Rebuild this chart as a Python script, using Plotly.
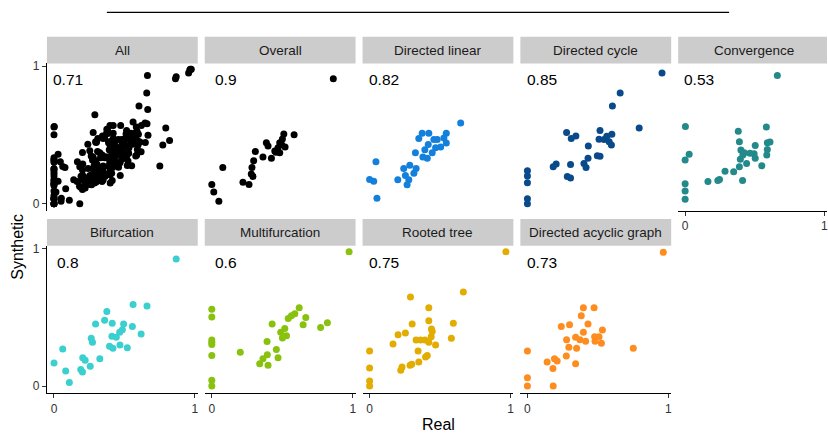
import plotly.graph_objects as go

FONT = "Arial, Liberation Sans, Helvetica, sans-serif"
W, H = 828, 433

panels = ["All", "Overall", "Directed linear", "Directed cycle", "Convergence",
          "Bifurcation", "Multifurcation", "Rooted tree", "Directed acyclic graph"]
correlations = ["0.71", "0.9", "0.82", "0.85", "0.53", "0.8", "0.6", "0.75", "0.73"]
colors = ["#000000", "#000000", "#1380DC", "#0A4A8A", "#23898A",
          "#3BCFD0", "#88C20E", "#E2AC00", "#FF8C1F"]
tick_vals = [0, 1]
tick_text = ["0", "1"]

overall_x = [0.862, 0.584, 0.511, 0.501, 0.482, 0.520, 0.387, 0.399, 0.470, 0.447, 0.482,
             0.423, 0.363, 0.309, 0.297, 0.285, 0.280, 0.292, 0.221, 0.264, 0.078, 0.0,
             0.014, 0.050, 0.455, 0.495]
overall_y = [0.907, 0.502, 0.507, 0.471, 0.443, 0.412, 0.443, 0.419, 0.407, 0.383, 0.371,
             0.331, 0.340, 0.379, 0.312, 0.264, 0.217, 0.198, 0.157, 0.140, 0.264, 0.140,
             0.086, 0.019, 0.375, 0.430]

linear_x = [0.646, 0.373, 0.420, 0.544, 0.349, 0.527, 0.456, 0.480, 0.544, 0.416, 0.504,
            0.468, 0.392, 0.444, 0.325, 0.378, 0.409, 0.045, 0.285, 0.242, 0.330, 0.314,
            0.254, 0.200, 0.278, 0.266, 0.0, 0.029, 0.052]
linear_y = [0.586, 0.513, 0.513, 0.513, 0.474, 0.477, 0.466, 0.466, 0.442, 0.431, 0.412,
            0.407, 0.393, 0.371, 0.371, 0.340, 0.331, 0.305, 0.279, 0.257, 0.257, 0.221,
            0.205, 0.174, 0.174, 0.138, 0.176, 0.164, 0.040]

cycle_x = [0.955, 0.658, 0.603, 0.793, 0.515, 0.278, 0.344, 0.311, 0.599, 0.563, 0.508,
           0.544, 0.580, 0.596, 0.432, 0.496, 0.515, 0.430, 0.401, 0.416, 0.306, 0.204,
           0.183, 0.283, 0.306, 0.0, 0.0, 0.0, 0.0, 0.0]
cycle_y = [0.950, 0.805, 0.710, 0.550, 0.533, 0.517, 0.493, 0.474, 0.505, 0.490, 0.469,
           0.467, 0.450, 0.426, 0.419, 0.348, 0.345, 0.331, 0.293, 0.264, 0.286, 0.288,
           0.269, 0.198, 0.188, 0.240, 0.202, 0.152, 0.036, 0.0]

conv_x = [0.663, 0.002, 0.584, 0.382, 0.390, 0.591, 0.610, 0.504, 0.401, 0.591, 0.425,
          0.466, 0.496, 0.587, 0.029, 0.0, 0.504, 0.397, 0.442, 0.390, 0.551, 0.287,
          0.349, 0.247, 0.235, 0.164, 0.413, 0.0, 0.0, 0.0, 0.415]
conv_y = [0.931, 0.562, 0.557, 0.526, 0.450, 0.443, 0.448, 0.424, 0.390, 0.395, 0.371,
          0.367, 0.364, 0.355, 0.360, 0.317, 0.331, 0.324, 0.293, 0.269, 0.276, 0.236,
          0.233, 0.176, 0.169, 0.162, 0.169, 0.145, 0.093, 0.033, 0.355]

bif_x = [0.867, 0.561, 0.660, 0.375, 0.359, 0.413, 0.494, 0.295, 0.556, 0.485, 0.466,
         0.618, 0.411, 0.442, 0.264, 0.273, 0.468, 0.394, 0.418, 0.520, 0.062, 0.204,
         0.221, 0.325, 0.257, 0.190, 0.202, 0.0, 0.083, 0.109]
bif_y = [0.923, 0.593, 0.581, 0.541, 0.478, 0.457, 0.450, 0.450, 0.433, 0.409, 0.390,
         0.378, 0.361, 0.354, 0.347, 0.318, 0.299, 0.289, 0.275, 0.278, 0.270, 0.206,
         0.187, 0.199, 0.144, 0.120, 0.103, 0.167, 0.110, 0.026]

multi_x = [0.974, 0.620, 0.589, 0.565, 0.542, 0.667, 0.648, 0.428, 0.772, 0.820, 0.518,
           0.489, 0.530, 0.501, 0.392, 0.458, 0.470, 0.394, 0.363, 0.340, 0.399, 0.202,
           0.0, 0.0, 0.0, 0.0, 0.0, 0.0, 0.0, 0.0]
multi_y = [0.976, 0.569, 0.526, 0.510, 0.490, 0.498, 0.445, 0.450, 0.426, 0.459, 0.419,
           0.390, 0.366, 0.349, 0.323, 0.266, 0.206, 0.227, 0.199, 0.163, 0.151, 0.246,
           0.557, 0.502, 0.335, 0.318, 0.301, 0.222, 0.043, 0.0]

tree_x = [0.967, 0.665, 0.290, 0.420, 0.420, 0.594, 0.302, 0.439, 0.444, 0.254, 0.202,
          0.437, 0.330, 0.361, 0.392, 0.420, 0.468, 0.580, 0.166, 0.344, 0.409, 0.397,
          0.349, 0.299, 0.287, 0.230, 0.221, 0.0, 0.0, 0.0, 0.0]
tree_y = [0.976, 0.684, 0.646, 0.569, 0.474, 0.457, 0.450, 0.414, 0.397, 0.385, 0.373,
          0.359, 0.335, 0.335, 0.335, 0.318, 0.299, 0.347, 0.306, 0.254, 0.222, 0.211,
          0.175, 0.158, 0.151, 0.139, 0.115, 0.254, 0.132, 0.036, 0.0]

dag_x = [0.964, 0.397, 0.473, 0.382, 0.430, 0.240, 0.299, 0.532, 0.397, 0.342, 0.373,
         0.413, 0.477, 0.508, 0.480, 0.525, 0.278, 0.294, 0.349, 0.751, 0.0, 0.276,
         0.192, 0.211, 0.140, 0.181, 0.342, 0.0, 0.0, 0.183]
dag_y = [0.971, 0.569, 0.569, 0.510, 0.450, 0.433, 0.445, 0.407, 0.390, 0.354, 0.337,
         0.325, 0.359, 0.359, 0.325, 0.311, 0.337, 0.282, 0.275, 0.275, 0.254, 0.218,
         0.199, 0.182, 0.175, 0.127, 0.163, 0.060, 0.0, 0.0]

groups_x = [overall_x, linear_x, cycle_x, conv_x, bif_x, multi_x, tree_x, dag_x]
groups_y = [overall_y, linear_y, cycle_y, conv_y, bif_y, multi_y, tree_y, dag_y]
all_x = [v for g in groups_x for v in g]
all_y = [v for g in groups_y for v in g]

data_x = [all_x] + groups_x
data_y = [all_y] + groups_y

# layout in pixels
col_left = [47, 205, 363, 521, 679]
panel_w = 151
row_top = [60, 244]
row_bot = [209, 393]
strip_h = 27
xr = [-0.05, 1.02]
yr = [-0.053, 1.019]

fig = go.Figure()
shapes = []
annotations = []

def px(x):
    return x / W

def py(y):
    return 1 - y / H

for i, name in enumerate(panels):
    r, c = divmod(i, 5)
    suffix = "" if i == 0 else str(i + 1)
    xa, ya = "xaxis" + suffix, "yaxis" + suffix
    xref, yref = "x" + suffix, "y" + suffix
    x0 = col_left[c]
    x1 = min(x0 + panel_w, W)
    y0, y1 = row_top[r], row_bot[r]

    fig.add_trace(go.Scatter(
        x=data_x[i], y=data_y[i], mode="markers", xaxis=xref, yaxis=yref,
        marker=dict(color=colors[i], size=7, line=dict(width=0)),
        showlegend=False, hoverinfo="skip"))

    show_x = (r == 1) or (c == 4)
    show_y = (c == 0)
    axis_common = dict(showgrid=False, zeroline=False, linecolor="black", linewidth=1,
                       tickcolor="#333333", ticklen=4, tickwidth=1,
                       tickfont=dict(family=FONT, size=12, color="#333333"),
                       tickvals=tick_vals, ticktext=tick_text, fixedrange=True)
    fig.layout[xa] = dict(domain=[px(x0), px(x1)], anchor=yref, range=xr,
                          showline=show_x, ticks="outside" if show_x else "",
                          showticklabels=show_x, **axis_common)
    fig.layout[ya] = dict(domain=[py(y1), py(y0)], anchor=xref, range=yr,
                          showline=show_y, ticks="outside" if show_y else "",
                          showticklabels=show_y, **axis_common)

    # strip
    shapes.append(dict(type="rect", xref="paper", yref="paper",
                       x0=px(x0), x1=px(x1), y0=py(y0), y1=py(y0 - strip_h),
                       fillcolor="#CCCCCC", line=dict(width=0), layer="below"))
    annotations.append(dict(text=name, xref="paper", yref="paper",
                            x=px((x0 + x0 + panel_w) / 2), y=py(y0 - strip_h / 2),
                            xanchor="center", yanchor="middle", showarrow=False,
                            font=dict(family=FONT, size=13.5, color="#1A1A1A")))
    annotations.append(dict(text=correlations[i], xref=xref, yref=yref,
                            x=0.1, y=0.9, xanchor="center", yanchor="middle",
                            showarrow=False,
                            font=dict(family=FONT, size=15.5, color="#000000")))

# top rule
shapes.append(dict(type="line", xref="paper", yref="paper",
                   x0=px(107), x1=px(730), y0=py(8.5), y1=py(8.5),
                   line=dict(color="black", width=1.3)))

annotations.append(dict(text="Real", xref="paper", yref="paper", x=px(439), y=py(424),
                        xanchor="center", yanchor="middle", showarrow=False,
                        font=dict(family=FONT, size=16, color="#000000")))
annotations.append(dict(text="Synthetic", xref="paper", yref="paper", x=px(18), y=py(245),
                        xanchor="center", yanchor="middle", showarrow=False, textangle=-90,
                        font=dict(family=FONT, size=16, color="#000000")))

fig.update_layout(width=W, height=H, margin=dict(l=0, r=0, t=0, b=0),
                  paper_bgcolor="white", plot_bgcolor="white",
                  shapes=shapes, annotations=annotations,
                  font=dict(family=FONT))

fig.write_html("out.html")
